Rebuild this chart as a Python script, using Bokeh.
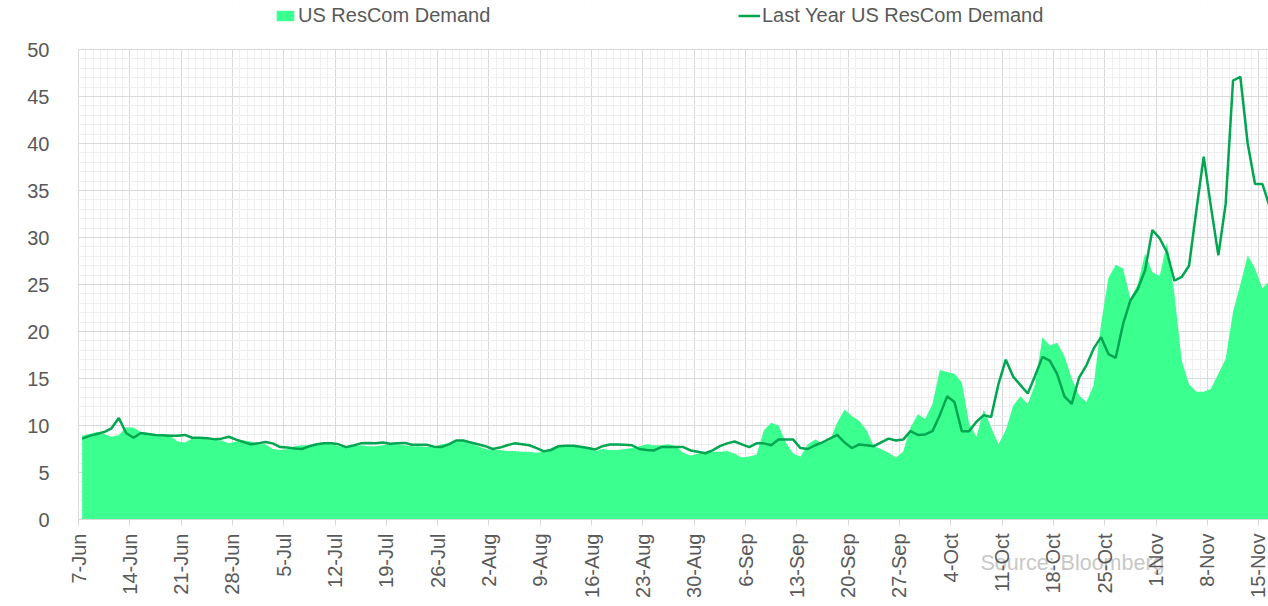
from bokeh.plotting import figure
from bokeh.models import (Range1d, FixedTicker, Legend, LegendItem, Label, ColumnDataSource)
from bokeh.embed import file_html
from bokeh.resources import INLINE
import math

# ---- data (daily, starting 7-Jun) ----
rescom_demand = [
    8.9, 9.1, 9.3, 9.1, 8.8, 9.0, 9.8, 9.8, 9.3, 9.2, 9.0, 8.9, 8.9, 8.3, 8.2, 8.6, 8.7, 8.5, 8.5, 8.4,
    8.1, 8.3, 8.4, 8.3, 8.0, 8.0, 7.5, 7.4, 7.5, 7.8, 7.9, 7.9, 8.0, 8.1, 8.0, 7.8, 7.7,
    7.8, 7.9, 7.8, 7.8, 7.9, 8.0, 8.0, 7.9, 7.8, 7.8, 7.7, 7.7, 8.0, 8.1, 8.3, 8.3, 8.1, 7.8, 7.5,
    7.4, 7.4, 7.3, 7.3, 7.2, 7.2, 7.1, 7.2, 7.6, 7.9, 7.9, 7.9, 7.8, 7.6, 7.3, 7.5,
    7.4, 7.4, 7.5, 7.6, 7.8, 8.0, 7.9, 7.9, 8.0, 7.8, 7.1, 6.8, 7.0, 7.2, 7.2, 7.2, 7.3, 7.0,
    6.6, 6.7, 6.9, 9.5, 10.3, 10.0, 8.2, 7.0, 6.7, 8.0, 8.5, 8.1, 8.4, 10.3, 11.7, 11.0, 10.5, 9.5,
    7.8, 7.5, 7.1, 6.6, 7.2, 9.8, 11.2, 10.7, 12.3, 15.9, 15.7, 15.5, 14.6, 10.2, 8.8, 11.7, 9.8, 8.0,
    9.5, 12.1, 13.1, 12.3, 14.4, 19.4, 18.5, 18.8, 17.4, 15.0, 13.2, 12.5, 14.3, 20.8, 25.7, 27.1,
    26.7, 23.5, 25.0, 28.3, 26.3, 25.9, 29.5, 24.0, 16.9, 14.4, 13.6, 13.6, 13.9, 15.5, 17.1, 22.1,
    25.0, 28.1, 26.7, 24.6, 25.4,
]
last_year_demand = [
    8.6, 8.9, 9.1, 9.3, 9.7, 10.8, 9.2, 8.7, 9.2, 9.1, 9.0, 8.95, 8.9, 8.9, 9.0, 8.7, 8.7, 8.65, 8.55, 8.6,
    8.8, 8.5, 8.25, 8.0, 8.1, 8.25, 8.1, 7.7, 7.65, 7.55, 7.5, 7.8, 8.0, 8.1, 8.1, 8.0, 7.7,
    7.87, 8.1, 8.15, 8.1, 8.2, 8.05, 8.1, 8.15, 7.95, 7.95, 7.95, 7.75, 7.7, 8.0, 8.4, 8.4, 8.2, 8.0, 7.8,
    7.5, 7.65, 7.9, 8.1, 8.0, 7.9, 7.6, 7.25, 7.4, 7.8, 7.85, 7.85, 7.75, 7.6, 7.45, 7.8,
    7.98, 7.98, 7.95, 7.9, 7.5, 7.4, 7.35, 7.7, 7.7, 7.7, 7.7, 7.35, 7.2, 7.05, 7.35, 7.8, 8.1, 8.3,
    8.0, 7.7, 8.1, 8.1, 7.9, 8.5, 8.5, 8.5, 7.6, 7.5, 7.9, 8.2, 8.6, 9.0, 8.2, 7.6, 7.98, 7.9,
    7.8, 8.2, 8.6, 8.4, 8.5, 9.4, 9.0, 9.05, 9.4, 11.1, 13.1, 12.5, 9.4, 9.4, 10.4, 11.1, 10.9, 14.4,
    17.0, 15.2, 14.3, 13.4, 15.3, 17.3, 16.9, 15.5, 13.1, 12.3, 15.1, 16.4, 18.2, 19.4, 17.6, 17.2,
    20.8, 23.3, 24.5, 26.5, 30.8, 29.9, 28.4, 25.4, 25.8, 27.0, 32.9, 38.6, 33.2, 28.1, 33.6, 46.7,
    47.1, 40.0, 35.7, 35.7, 33.3,
]
week_labels = ["7-Jun", "14-Jun", "21-Jun", "28-Jun", "5-Jul", "12-Jul", "19-Jul", "26-Jul",
               "2-Aug", "9-Aug", "16-Aug", "23-Aug", "30-Aug", "6-Sep", "13-Sep", "20-Sep",
               "27-Sep", "4-Oct", "11-Oct", "18-Oct", "25-Oct", "1-Nov", "8-Nov", "15-Nov"]
y_ticks = [0, 5, 10, 15, 20, 25, 30, 35, 40, 45, 50]
source_note = "Source: Bloomberg"

n = len(rescom_demand)
day_pos = [i + 0.5 for i in range(n)]
src = ColumnDataSource(dict(x=day_pos, area=rescom_demand, line=last_year_demand))

FONT = "Liberation Sans"
TXT = "#595959"
AREA_C = "#3bff8f"
LINE_C = "#00a650"

W, H = 1268, 606
AXIS_X = 78                               # pixel column of the 7-Jun axis start
PAD_DAYS = 1.6                            # extra room left of the axis for the first label
PLOT_TOP, PLOT_BOTTOM = 49, 519           # pixel rows of 50 and 0
Y_MAX = 50
X_END = 162.34
ppd = (W - AXIS_X) / X_END
LEFT = int(round(AXIS_X - PAD_DAYS * ppd))
x_lo = -(AXIS_X - LEFT) / ppd
ppu = (PLOT_BOTTOM - PLOT_TOP) / Y_MAX
y_hi = Y_MAX + PLOT_TOP / ppu
y_lo = -(H - PLOT_BOTTOM) / ppu

p = figure(width=W, height=H, output_backend="svg", toolbar_location=None,
           x_range=Range1d(x_lo, X_END), y_range=Range1d(y_lo, y_hi),
           min_border_left=LEFT, min_border_right=0, min_border_top=0, min_border_bottom=0)
p.outline_line_color = None
p.background_fill_color = "white"

major_x = [7 * i for i in range(len(week_labels))]
p.xaxis.ticker = FixedTicker(ticks=major_x, minor_ticks=list(range(0, 163)))
p.xaxis.major_label_overrides = {t: lab for t, lab in zip(major_x, week_labels)}
p.yaxis.ticker = FixedTicker(ticks=y_ticks, minor_ticks=list(range(0, 51)))

for ax in (p.xaxis[0], p.yaxis[0]):
    ax.major_label_text_font = FONT
    ax.major_label_text_font_size = "20px"
    ax.major_label_text_color = TXT
    ax.minor_tick_line_color = None

p.xaxis.fixed_location = 0
p.xaxis.bounds = (0, X_END)
p.xaxis.axis_line_color = "#d9d9d9"
p.xaxis.major_tick_line_color = "#d9d9d9"
p.xaxis.major_tick_out = 6
p.xaxis.major_tick_in = 0
p.xaxis.major_label_standoff = 8
p.xaxis.major_label_orientation = math.pi / 2

p.yaxis.axis_line_color = None
p.yaxis.major_tick_line_color = None
p.yaxis.major_tick_out = 0
p.yaxis.major_label_standoff = max(2, LEFT - 53)

for g in (p.xgrid[0], p.ygrid[0]):
    g.grid_line_color = "#d9d9d9"
    g.minor_grid_line_color = "#efefef"

# white masks so the grid only spans the 0..50 / 7-Jun..end box
p.quad(left=x_lo, right=X_END, bottom=Y_MAX + 0.06, top=y_hi, fill_color="white", line_color=None)
p.quad(left=x_lo, right=X_END, bottom=y_lo, top=0, fill_color="white", line_color=None)
p.quad(left=x_lo, right=-0.07, bottom=y_lo, top=y_hi, fill_color="white", line_color=None)

area = p.varea(x="x", y1=0, y2="area", source=src, fill_color=AREA_C)
line = p.line(x="x", y="line", source=src, line_color=LINE_C, line_width=2.5)

note = Label(x=980 - LEFT, y=H - 562, x_units="screen", y_units="screen",
             text=source_note, text_font=FONT, text_font_size="21.5px",
             text_color="#c8c8c8", text_baseline="alphabetic", level="glyph")
p.add_layout(note)

def make_legend(label, rend, x):
    lg = Legend(items=[LegendItem(label=label, renderers=[rend])],
                location=(x, H - 27), orientation="horizontal",
                padding=0, margin=0, spacing=0, label_standoff=2,
                glyph_width=22, glyph_height=13,
                border_line_color=None, background_fill_alpha=0,
                label_text_font=FONT, label_text_font_size="20px",
                label_text_color=TXT)
    p.add_layout(lg, "center")

make_legend("US ResCom Demand", area, 274 - LEFT)
make_legend("Last Year US ResCom Demand", line, 738 - LEFT)

open("out.html", "w").write(file_html(p, INLINE))
